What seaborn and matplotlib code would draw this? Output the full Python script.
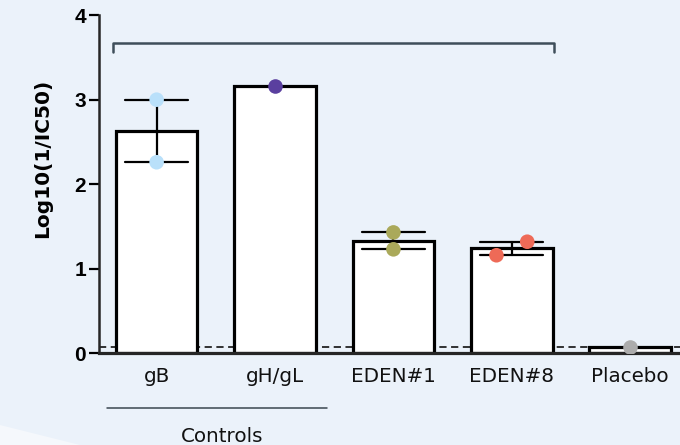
import matplotlib
matplotlib.use("Agg")
import matplotlib.pyplot as plt
from matplotlib.patches import Polygon
from matplotlib.lines import Line2D
import matplotlib.transforms as mtransforms
import numpy as np
import pandas as pd
import seaborn as sns

# data
groups = ["gB", "gH/gL", "EDEN#1", "EDEN#8", "Placebo"]
gB_vals = [3.00, 2.26]
gHgL_vals = [3.16]
eden1_vals = [1.43, 1.23]
eden8_vals = [1.16, 1.32]
placebo_vals = [0.07]
cutoff = 0.08
y_ticks = [0, 1, 2, 3, 4]
point_colors = ["#b9e0fa", "#5a3f9f", "#aaa95a", "#ee6a57", "#acacac"]

vals = [gB_vals, gHgL_vals, eden1_vals, eden8_vals, placebo_vals]
df = pd.DataFrame({
    "group": [g for g, v in zip(groups, vals) for _ in v],
    "value": [x for v in vals for x in v],
})

sns.set_style("ticks")
plt.rcParams["font.family"] = ["DejaVu Sans"]
plt.rcParams["text.color"] = "black"
plt.rcParams["axes.labelcolor"] = "black"

bg = "#ebf2fa"
fig = plt.figure(figsize=(6.8, 4.45), dpi=100, facecolor=bg)
fig.patches.append(Polygon([(0, 0), (0, 20 / 445), (80 / 680, 0)], closed=True,
                           transform=fig.transFigure, facecolor="#f5f8fc",
                           edgecolor="none", zorder=0))
ax = fig.add_axes([0.145, 0.206, 0.855, 0.76])
ax.set_facecolor("none")

ax.axhline(cutoff, ls=(0, (4, 2.5)), color="#222222", lw=1.3, zorder=0.5)

sns.barplot(data=df, x="group", y="value", order=groups, errorbar="se",
            capsize=0.53, width=0.69, color="white", edgecolor="black",
            linewidth=2.3, saturation=1,
            err_kws={"color": "black", "linewidth": 1.6}, ax=ax, zorder=1)

sns.stripplot(data=df, x="group", y="value", order=groups, hue="group",
              hue_order=groups, palette=point_colors, jitter=False, size=10.5,
              linewidth=0, legend=False, ax=ax, zorder=4)

# nudge the EDEN#8 pair apart the way the original scatter does
for coll in ax.collections:
    off = np.asarray(coll.get_offsets())
    if len(off) == 2 and np.allclose(off[:, 0], 3):
        order = np.argsort(off[:, 1])
        off[order[0], 0] = 3 - 0.13
        off[order[1], 0] = 3 + 0.13
        coll.set_offsets(off)

ax.set_xlim(-0.49, 4.42)
ax.set_ylim(0, 4)
ax.set_yticks(y_ticks)
ax.set_yticklabels([str(t) for t in y_ticks], fontfamily="Liberation Sans",
                   fontweight="bold", fontsize=15, color="black")
ax.set_xlabel("")
ax.set_ylabel("Log10(1/IC50)", fontsize=14.5, fontweight="bold", color="black")
ax.yaxis.set_label_coords(-0.08, 0.575)

sns.despine(ax=ax, top=True, right=True)
ax.spines["left"].set_linewidth(1.8)
ax.spines["bottom"].set_linewidth(2.3)
ax.tick_params(axis="y", length=7.5, width=1.6, pad=1.5, colors="black")
ax.tick_params(axis="x", length=0, pad=10, labelsize=14.3, labelcolor="#111111")

# significance bracket over the groups
br_color = "#3e4e5a"
ax.add_line(Line2D([-0.372, -0.372, 3.357, 3.357], [3.56, 3.667, 3.667, 3.56],
                   color=br_color, lw=1.8, clip_on=False))

# "Controls" grouping under gB and gH/gL
trans = mtransforms.blended_transform_factory(ax.transData, ax.transAxes)
ax.add_line(Line2D([-0.42, 1.44], [-0.162, -0.162], color="#3a4650", lw=1.1,
                   transform=trans, clip_on=False))
ax.text(0.55, -0.262, "Controls", transform=trans, ha="center", va="baseline",
        fontsize=14.3, color="#111111")

fig.savefig("out.png", dpi=100, facecolor=bg)
